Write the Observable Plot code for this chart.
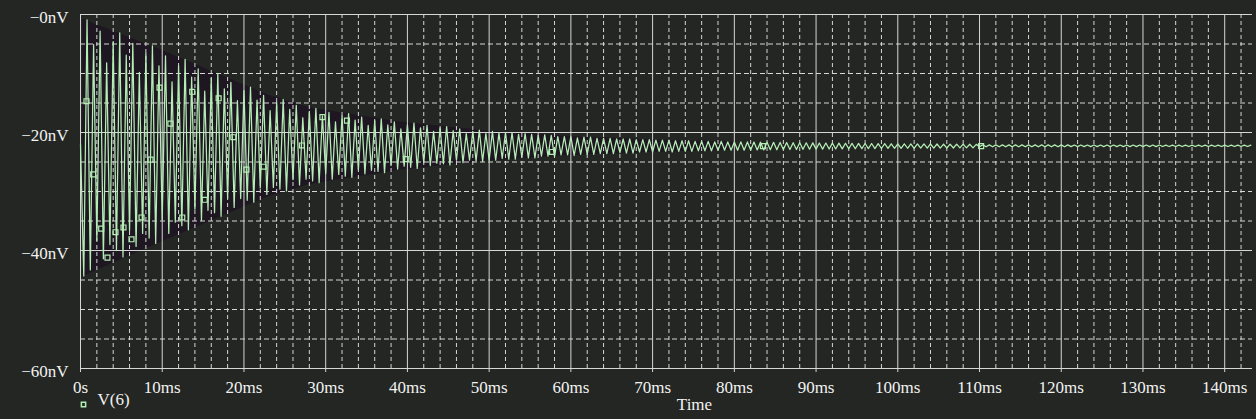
<!DOCTYPE html>
<html>
<head>
<meta charset="utf-8">
<script src="https://cdn.jsdelivr.net/npm/d3@7"></script>
<script src="https://cdn.jsdelivr.net/npm/@observablehq/plot@0.6"></script>
<style>
  html, body { margin: 0; padding: 0; background: #232622; }
  #chart { width: 1256px; height: 419px; }
  #chart svg, #chart svg text { font-family: "Liberation Serif", "Times New Roman", serif !important; }
</style>
</head>
<body>
<div id="chart"></div>
<script>
// ---- data ----
const seriesName = "V(6)";
const xTickValues = [0, 10, 20, 30, 40, 50, 60, 70, 80, 90, 100, 110, 120, 130, 140];
const xTickLabels = ["0s", "10ms", "20ms", "30ms", "40ms", "50ms", "60ms", "70ms", "80ms", "90ms", "100ms", "110ms", "120ms", "130ms", "140ms"];
const yTickValues = [0, -20, -40, -60];
const yTickLabels = ["\u22120nV", "\u221220nV", "\u221240nV", "\u221260nV"];

// time (ms) of each drawn extreme of the trace
const timeMs = [
  0,0.4,0.8,1.2,1.6,2,2.4,2.8,3.2,3.6,
  4,4.4,4.8,5.2,5.6,6,6.4,6.8,7.2,7.6,
  8,8.4,8.8,9.2,9.6,10,10.4,10.8,11.2,11.6,
  12,12.4,12.8,13.2,13.6,14,14.4,14.8,15.2,15.6,
  16,16.4,16.8,17.2,17.6,18,18.4,18.8,19.2,19.6,
  20,20.4,20.8,21.2,21.6,22,22.4,22.8,23.2,23.6,
  24,24.4,24.8,25.2,25.6,26,26.4,26.8,27.2,27.6,
  28,28.4,28.8,29.2,29.6,30,30.4,30.8,31.2,31.6,
  32,32.4,32.8,33.2,33.6,34,34.4,34.8,35.2,35.6,
  36,36.4,36.8,37.2,37.6,38,38.4,38.8,39.2,39.6,
  40,40.4,40.8,41.2,41.6,42,42.4,42.8,43.2,43.6,
  44,44.4,44.8,45.2,45.6,46,46.4,46.8,47.2,47.6,
  48,48.4,48.8,49.2,49.6,50,50.4,50.8,51.2,51.6,
  52,52.4,52.8,53.2,53.6,54,54.4,54.8,55.2,55.6,
  56,56.4,56.8,57.2,57.6,58,58.4,58.8,59.2,59.6,
  60,60.4,60.8,61.2,61.6,62,62.4,62.8,63.2,63.6,
  64,64.4,64.8,65.2,65.6,66,66.4,66.8,67.2,67.6,
  68,68.4,68.8,69.2,69.6,70,70.4,70.8,71.2,71.6,
  72,72.4,72.8,73.2,73.6,74,74.4,74.8,75.2,75.6,
  76,76.4,76.8,77.2,77.6,78,78.4,78.8,79.2,79.6,
  80,80.4,80.8,81.2,81.6,82,82.4,82.8,83.2,83.6,
  84,84.4,84.8,85.2,85.6,86,86.4,86.8,87.2,87.6,
  88,88.4,88.8,89.2,89.6,90,90.4,90.8,91.2,91.6,
  92,92.4,92.8,93.2,93.6,94,94.4,94.8,95.2,95.6,
  96,96.4,96.8,97.2,97.6,98,98.4,98.8,99.2,99.6,
  100,100.4,100.8,101.2,101.6,102,102.4,102.8,103.2,103.6,
  104,104.4,104.8,105.2,105.6,106,106.4,106.8,107.2,107.6,
  108,108.4,108.8,109.2,109.6,110,110.4,110.8,111.2,111.6,
  112,112.4,112.8,113.2,113.6,114,114.4,114.8,115.2,115.6,
  116,116.4,116.8,117.2,117.6,118,118.4,118.8,119.2,119.6,
  120,120.4,120.8,121.2,121.6,122,122.4,122.8,123.2,123.6,
  124,124.4,124.8,125.2,125.6,126,126.4,126.8,127.2,127.6,
  128,128.4,128.8,129.2,129.6,130,130.4,130.8,131.2,131.6,
  132,132.4,132.8,133.2,133.6,134,134.4,134.8,135.2,135.6,
  136,136.4,136.8,137.2,137.6,138,138.4,138.8,139.2,139.6,
  140,140.4,140.8,141.2,141.6,142,142.4,142.8,143.2
];

// V(6) in nV at those times (trough, peak, trough, peak ...)
const voltageNV = [
  -22.0,
  -44.3,-0.9, -43.3,-5.1, -38.3,-2.8, -41.4,-8.2, -39.0,-4.6,
  -40.0,-3.1, -41.1,-6.9, -36.6,-4.9, -39.3,-9.8, -37.1,-6.6,
  -37.9,-5.3, -38.8,-8.7, -34.8,-7.0, -37.1,-11.4, -35.2,-8.7,
  -35.8,-7.6, -36.5,-10.6, -33.0,-9.2, -34.9,-13.0, -33.2,-10.8,
  -33.6,-10.0, -34.2,-12.6, -31.2,-11.5, -32.7,-14.6, -31.2,-12.9,
  -31.5,-12.3, -31.8,-14.5, -29.4,-13.7, -30.5,-16.3, -29.3,-14.9,
  -29.6,-14.4, -29.9,-16.1, -28.0,-15.4, -28.9,-17.5, -27.9,-16.4,
  -28.2,-15.9, -28.5,-17.2, -27.0,-16.6, -27.9,-18.2, -27.1,-17.2,
  -27.4,-16.8, -27.6,-17.9, -26.3,-17.4, -27.0,-18.8, -26.4,-18.0,
  -26.6,-17.7, -26.8,-18.7, -25.6,-18.2, -26.2,-19.4, -25.7,-18.7,
  -25.9,-18.4, -26.1,-19.2, -25.1,-18.8, -25.6,-19.8, -25.2,-19.2,
  -25.3,-19.0, -25.5,-19.7, -24.7,-19.4, -25.1,-20.2, -24.7,-19.8,
  -24.8,-19.6, -24.9,-20.2, -24.7,-19.8, -24.7,-20.1, -24.4,-20.0,
  -24.5,-20.0, -24.5,-20.3, -24.2,-20.2, -24.3,-20.3, -24.3,-20.5,
  -24.0,-20.4, -24.0,-20.5, -24.1,-20.7, -23.8,-20.7, -23.8,-20.7,
  -23.9,-20.9, -23.7,-20.8, -23.7,-20.8, -23.7,-21.0, -23.6,-21.0,
  -23.6,-21.0, -23.6,-21.1, -23.4,-21.1, -23.5,-21.1, -23.5,-21.2,
  -23.3,-21.2, -23.3,-21.2, -23.3,-21.3, -23.2,-21.3, -23.2,-21.3,
  -23.3,-21.4, -23.2,-21.4, -23.2,-21.4, -23.2,-21.5, -23.1,-21.5,
  -23.1,-21.5, -23.1,-21.6, -23.0,-21.5, -23.0,-21.6, -23.0,-21.6,
  -23.01,-21.59, -23.00,-21.60, -22.98,-21.62, -22.96,-21.64, -22.95,-21.65,
  -22.93,-21.67, -22.92,-21.68, -22.90,-21.70, -22.88,-21.72, -22.87,-21.73,
  -22.85,-21.75, -22.84,-21.76, -22.82,-21.78, -22.81,-21.79, -22.80,-21.80,
  -22.79,-21.81, -22.77,-21.83, -22.76,-21.84, -22.75,-21.85, -22.74,-21.86,
  -22.73,-21.87, -22.72,-21.88, -22.71,-21.89, -22.69,-21.91, -22.68,-21.92,
  -22.68,-21.92, -22.67,-21.93, -22.67,-21.93, -22.66,-21.94, -22.65,-21.95,
  -22.65,-21.95, -22.64,-21.96, -22.63,-21.97, -22.63,-21.97, -22.62,-21.98,
  -22.61,-21.99, -22.60,-22.00,
  -22.42,-22.10, -22.42,-22.10, -22.42,-22.10, -22.42,-22.10, -22.42,-22.10, -22.42,-22.10, -22.42,-22.10,
  -22.42,-22.10, -22.42,-22.10, -22.42,-22.10, -22.42,-22.10, -22.42,-22.10, -22.42,-22.10, -22.42,-22.10,
  -22.40,-22.12, -22.40,-22.12, -22.40,-22.12, -22.40,-22.12, -22.40,-22.12, -22.40,-22.12, -22.40,-22.12,
  -22.40,-22.12, -22.40,-22.12, -22.40,-22.12, -22.40,-22.12, -22.40,-22.12, -22.40,-22.12, -22.40,-22.12,
  -22.38,-22.14, -22.38,-22.14, -22.38,-22.14, -22.38,-22.14, -22.38,-22.14, -22.38,-22.14, -22.38,-22.14,
  -22.38,-22.14, -22.38,-22.14, -22.38,-22.14, -22.38,-22.14, -22.38,-22.14, -22.38,-22.14, -22.38,-22.14
];

// symbol markers placed along the trace
const markerTimeMs = [0.73, 1.55, 2.53, 3.30, 4.28, 5.26, 6.24, 7.47, 8.57, 9.67, 11.0, 12.45, 13.67, 15.2, 16.9, 18.7, 20.3, 22.4, 27.1, 29.6, 32.6, 39.8, 57.7, 83.5, 110.2];
const markerNV    = [-14.7, -27.1, -36.3, -41.2, -36.9, -36.1, -38.1, -34.4, -24.6, -12.4, -18.5, -34.4, -13.1, -31.4, -14.2, -20.8, -26.3, -25.8, -22.2, -17.4, -18.0, -24.5, -23.3, -22.3, -22.3];

// envelope of the dense oscillation (dark band behind the trace)
const envTimeMs = [0.3, 10, 23, 28, 39, 50, 60, 70, 80];
const envHighNV = [-0.8, -6.1, -13.7, -15.8, -18.2, -19.8, -20.7, -21.25, -21.6];
const envLowNV  = [-44.4, -38.5, -30.9, -28.8, -26.4, -24.8, -23.9, -23.35, -23.0];

// ---- build tables ----
const n = Math.min(timeMs.length, voltageNV.length);
const trace = d3.range(n).map(i => ({t: timeMs[i], v: voltageNV[i]}));
const markers = markerTimeMs.map((t, i) => ({t, v: markerNV[i]}));
const envelope = envTimeMs.map((t, i) => ({t, hi: envHighNV[i], lo: envLowNV[i]}));

const xMinor = d3.range(0, 144, 2).filter(d => d % 10 !== 0);
const yMinor = d3.range(-60, 1, 5).filter(d => d % 20 !== 0);
const xLabel = new Map(xTickValues.map((d, i) => [d, xTickLabels[i]]));
const yLabel = new Map(yTickValues.map((d, i) => [d, yTickLabels[i]]));

const bg = "#232622";
const green = "#b4eeb4";
const gridColor = "#d6d6d6";
const textColor = "#f2f2f2";
const serif = "Liberation Serif";

const chart = Plot.plot({
  width: 1256,
  height: 419,
  marginLeft: 80,
  marginRight: 4,
  marginTop: 14,
  marginBottom: 51,
  style: {background: bg, color: textColor, fontFamily: serif, fontSize: "17px"},
  x: {domain: [0, 143.4], axis: null, label: null},
  y: {domain: [-60, 0], axis: null, label: null},
  marks: [
    Plot.areaY(envelope, {x: "t", y1: "lo", y2: "hi", fill: "#1e1621", curve: "linear"}),
    Plot.ruleX(xMinor, {stroke: gridColor, strokeWidth: 1, strokeDasharray: "4,3"}),
    Plot.ruleY(yMinor, {stroke: gridColor, strokeWidth: 1, strokeDasharray: "5,3"}),
    Plot.ruleX(xTickValues, {stroke: gridColor, strokeWidth: 1}),
    Plot.ruleY(yTickValues, {stroke: gridColor, strokeWidth: 1}),
    Plot.line(trace, {x: "t", y: "v", stroke: green, strokeWidth: 1.25}),
    Plot.dot(markers, {x: "t", y: "v", symbol: "square", r: 2.8, stroke: green, strokeWidth: 1.2, fill: "none"}),
    Plot.axisX(xTickValues, {label: null, tickFormat: d => xLabel.get(d), tickSize: 4, tickPadding: 8, stroke: gridColor, fill: textColor, fontSize: 17, fontFamily: serif}),
    Plot.axisY(yTickValues, {label: null, tickFormat: d => yLabel.get(d), tickSize: 0, tickPadding: 12, dy: 3, fill: textColor, fontSize: 17, fontFamily: serif}),
    Plot.text(["Time"], {frameAnchor: "bottom", dx: 28, dy: 41, fill: textColor, fontSize: 17, fontFamily: serif}),
    Plot.dot([seriesName], {frameAnchor: "bottom-left", dx: 3, dy: 36, symbol: "square", r: 2.4, stroke: green, fill: "none"}),
    Plot.text([seriesName], {frameAnchor: "bottom-left", dx: 17, dy: 36, textAnchor: "start", fill: textColor, fontSize: 17, fontFamily: serif})
  ]
});
document.getElementById("chart").appendChild(chart);
</script>
</body>
</html>
